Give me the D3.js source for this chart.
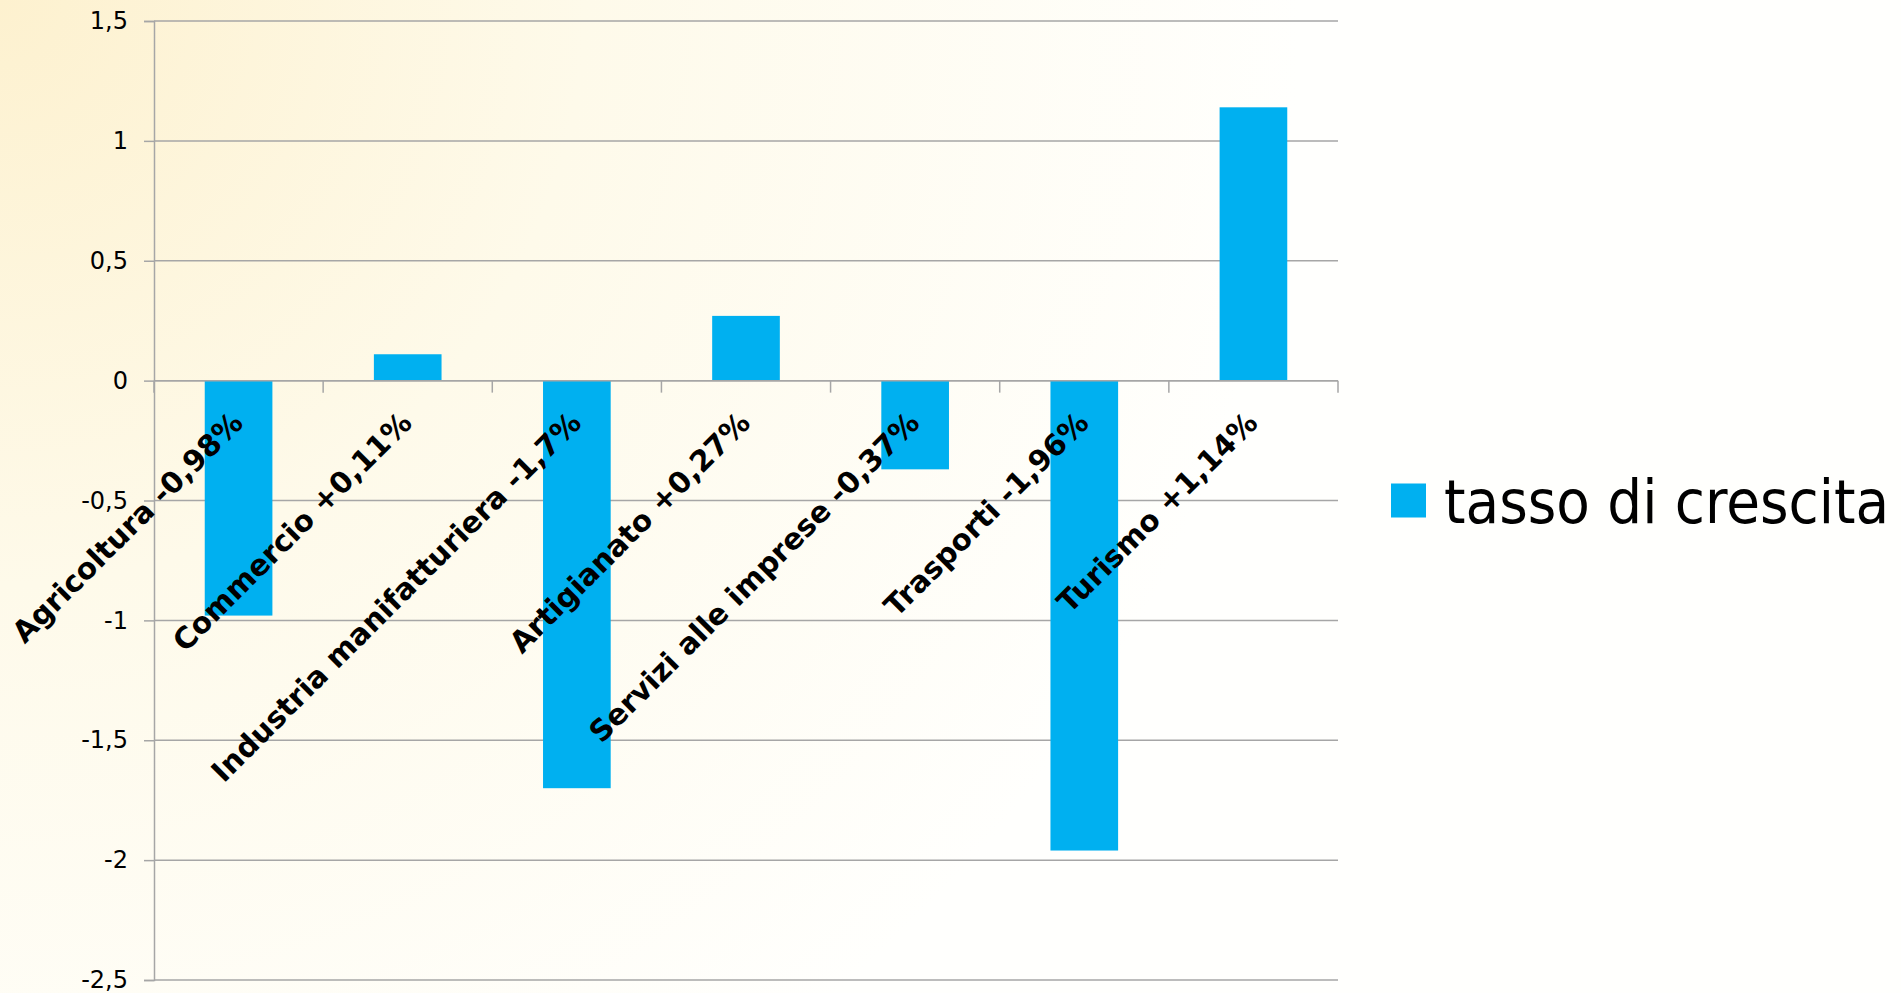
<!DOCTYPE html>
<html>
<head>
<meta charset="utf-8">
<script src="https://cdn.jsdelivr.net/npm/d3@7"></script>
<style>
  html, body { margin: 0; padding: 0; }
  body { width: 1901px; height: 993px; overflow: hidden; }
</style>
</head>
<body>
<div id="container-div"></div>
<script>
// categorie e valori (tasso di crescita %)
var categories = ["Agricoltura -0,98%", "Commercio +0,11%", "Industria manifatturiera -1,7%",
    "Artigianato +0,27%", "Servizi alle imprese -0,37%", "Trasporti -1,96%", "Turismo +1,14%"];
var values = [-0.98, 0.11, -1.7, 0.27, -0.37, -1.96, 1.14];
var yTicks = [1.5, 1, 0.5, 0, -0.5, -1, -1.5, -2, -2.5];
var seriesName = "tasso di crescita";

var W = 1901, H = 993;
var plotLeft = 154, plotRight = 1338, plotTop = 21, plotBottom = 980;
var barColor = "#00b0f0";
var gridColor = "#a6a6a6";

let viz = d3.select("#container-div").append("svg")
    .attr("width", W)
    .attr("height", H)
    .attr("id", "viz");

// sfondo sfumato
var defs = viz.append("defs");
var grad = defs.append("radialGradient")
    .attr("id", "bg")
    .attr("gradientUnits", "userSpaceOnUse")
    .attr("cx", 0).attr("cy", 0).attr("r", 1300);
grad.append("stop").attr("offset", "0%").attr("stop-color", "#fdf1cf");
grad.append("stop").attr("offset", "45%").attr("stop-color", "#fefaea");
grad.append("stop").attr("offset", "100%").attr("stop-color", "#fffffd");
viz.append("rect").attr("width", W).attr("height", H).attr("fill", "url(#bg)");

var x = d3.scaleBand()
    .domain(categories)
    .range([plotLeft, plotRight])
    .paddingInner(0.6)
    .paddingOuter(0.3);

// bordo delle categorie (per i tick)
var xEdge = d3.scaleLinear().domain([0, categories.length]).range([plotLeft, plotRight]);

var y = d3.scaleLinear().domain([-2.5, 1.5]).range([plotBottom, plotTop]);

var fmt = function(d) { return String(d).replace(".", ","); };

// griglia orizzontale + asse y
var yAxis = d3.axisLeft(y)
    .tickValues(yTicks)
    .tickSize(10)
    .tickPadding(16)
    .tickFormat(fmt);

var gy = viz.append("g")
    .attr("transform", "translate(" + plotLeft + ",0)")
    .call(yAxis);
gy.select(".domain").attr("stroke", gridColor).attr("stroke-width", 1.5);
gy.selectAll(".tick line").attr("stroke", gridColor).attr("stroke-width", 1.5);
gy.selectAll(".tick text")
    .attr("font-family", "'DejaVu Sans', Verdana, sans-serif")
    .attr("font-size", 24)
    .attr("fill", "#000");

viz.append("g").selectAll("line").data(yTicks).enter()
    .append("line")
    .attr("x1", plotLeft).attr("x2", plotRight)
    .attr("y1", function(d) { return y(d); })
    .attr("y2", function(d) { return y(d); })
    .attr("stroke", gridColor)
    .attr("stroke-width", 1.5);

// barre
viz.append("g").selectAll("rect").data(values).enter()
    .append("rect")
    .attr("x", function(d, i) { return x(categories[i]); })
    .attr("width", x.bandwidth())
    .attr("y", function(d) { return y(Math.max(0, d)); })
    .attr("height", function(d) { return Math.abs(y(d) - y(0)); })
    .attr("fill", barColor);

// asse x sullo zero con tick tra le categorie
viz.append("line")
    .attr("x1", plotLeft).attr("x2", plotRight)
    .attr("y1", y(0)).attr("y2", y(0))
    .attr("stroke", gridColor).attr("stroke-width", 1.5);
viz.append("g").selectAll("line").data(d3.range(categories.length + 1)).enter()
    .append("line")
    .attr("x1", function(d) { return xEdge(d); })
    .attr("x2", function(d) { return xEdge(d); })
    .attr("y1", y(0)).attr("y2", y(0) + 12)
    .attr("stroke", gridColor).attr("stroke-width", 1.5);

// etichette categorie ruotate
viz.append("g").selectAll("text").data(categories).enter()
    .append("text")
    .attr("transform", function(d) {
        var cx = x(d) + x.bandwidth() / 2 + 6;
        var cy = y(0) + 44;
        return "translate(" + cx + "," + cy + ") rotate(-45)";
    })
    .attr("text-anchor", "end")
    .attr("font-family", "'DejaVu Sans', Verdana, sans-serif")
    .attr("font-weight", "bold")
    .attr("font-size", 29.5)
    .attr("fill", "#000")
    .text(function(d) { return d; });

// legenda
var legend = viz.append("g").attr("transform", "translate(1391," + y(-0.5) + ")");
legend.append("rect")
    .attr("x", 0).attr("y", -17)
    .attr("width", 35).attr("height", 34)
    .attr("fill", barColor);
legend.append("text")
    .attr("x", 53).attr("y", 22)
    .attr("font-family", "'DejaVu Sans Condensed', 'DejaVu Sans', sans-serif")
    .attr("font-stretch", "condensed")
    .attr("font-size", 61)
    .attr("fill", "#000")
    .text(seriesName);
</script>
</body>
</html>
